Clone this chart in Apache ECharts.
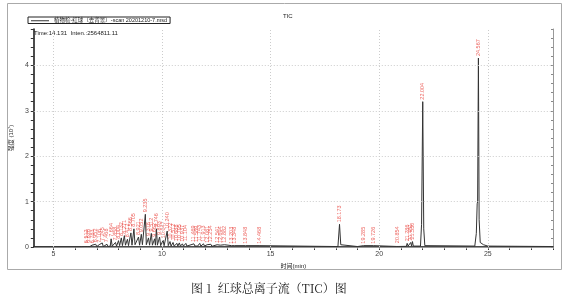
<!DOCTYPE html>
<html><head><meta charset="utf-8">
<script src="https://cdn.jsdelivr.net/npm/echarts@6/dist/echarts.min.js"></script>
<style>html,body{margin:0;padding:0;background:#fff}#c{width:569px;height:299px}</style>
</head><body><div id="c"></div>
<script>
// ---- data ----
const seriesName = '植物检-红球（去背景）-scan 20201210-7.msd';
const xTicks = [5,6,7,8,9,10,11,12,13,14,15,16,17,18,19,20,21,22,23,24,25,26,27,28];
const xLabels = [5,10,15,20,25];
const yLabels = [0,1,2,3,4];
// TIC trace: [time (min), intensity]
const trace = [
[4.1,0.005],[6.3,0.006],[6.45,0.01],[6.51,0.04],[6.56,0.01],[6.63,0.05],[6.68,0.01],[6.78,0.04],[6.83,0.01],
[6.95,0.06],[7.0,0.01],[7.11,0.05],[7.16,0.01],[7.25,0.09],[7.3,0.01],[7.47,0.06],[7.52,0.01],[7.62,0.02],
[7.66,0.18],[7.71,0.02],[7.86,0.10],[7.91,0.02],[8.0,0.14],[8.05,0.03],[8.13,0.20],[8.18,0.03],[8.27,0.25],
[8.32,0.04],[8.41,0.17],[8.46,0.03],[8.57,0.31],[8.62,0.04],[8.71,0.40],[8.76,0.05],[8.92,0.22],[8.97,0.04],
[9.05,0.28],[9.1,0.05],[9.19,0.05],[9.235,0.72],[9.28,0.05],[9.38,0.20],[9.43,0.04],[9.51,0.30],[9.56,0.04],
[9.66,0.18],[9.7,0.04],[9.746,0.40],[9.79,0.04],[9.89,0.22],[9.94,0.03],[10.05,0.15],[10.1,0.03],[10.24,0.35],
[10.29,0.03],[10.37,0.12],[10.42,0.02],[10.51,0.10],[10.56,0.02],[10.69,0.08],[10.73,0.02],[10.8,0.09],
[10.85,0.02],[10.94,0.07],[10.99,0.02],[11.1,0.08],[11.15,0.02],[11.47,0.07],[11.52,0.02],[11.59,0.06],
[11.64,0.02],[11.74,0.08],[11.79,0.02],[11.91,0.07],[11.96,0.02],[12.08,0.05],[12.13,0.015],[12.25,0.06],
[12.3,0.015],[12.54,0.05],[12.59,0.015],[12.69,0.04],[12.74,0.012],[12.88,0.05],[12.93,0.012],[13.2,0.03],
[13.25,0.01],[13.35,0.03],[13.4,0.01],[13.85,0.03],[13.9,0.01],[14.47,0.03],[14.52,0.008],[18.1,0.01],
[18.173,0.5],[18.23,0.05],[18.3,0.015],[19.0,0.01],[19.285,0.03],[19.33,0.01],[19.726,0.03],[19.77,0.01],
[20.8,0.012],[20.854,0.04],[20.9,0.012],[21.25,0.015],[21.286,0.08],[21.33,0.02],[21.41,0.02],[21.451,0.1],
[21.49,0.02],[21.53,0.12],[21.57,0.02],[21.9,0.02],[21.95,0.5],[22.004,3.2],[22.05,0.4],[22.1,0.03],
[24.4,0.02],[24.47,0.3],[24.51,0.95],[24.53,1.0],[24.567,4.16],[24.6,0.6],[24.65,0.1],[24.8,0.05],[25.0,0.02],[28,0.01]
];
// labelled peaks: time, apex intensity
const peakTimes = [6.512,6.628,6.783,6.952,7.106,7.245,7.468,7.664,7.858,8.004,8.132,8.271,8.412,8.566,8.705,8.921,9.052,9.235,9.378,9.512,9.662,9.746,9.893,10.047,10.240,10.372,10.512,10.688,10.795,10.937,11.104,11.469,11.589,11.743,11.913,12.081,12.254,12.541,12.694,12.882,13.203,13.348,13.848,14.468,18.173,19.285,19.726,20.854,21.286,21.451,21.530,22.004,24.567];
const peakHeights = [0.04,0.05,0.04,0.06,0.05,0.09,0.06,0.18,0.10,0.14,0.20,0.25,0.17,0.31,0.40,0.22,0.28,0.72,0.20,0.30,0.18,0.40,0.22,0.15,0.35,0.12,0.10,0.08,0.09,0.07,0.08,0.07,0.06,0.08,0.07,0.05,0.06,0.05,0.04,0.05,0.03,0.03,0.03,0.03,0.5,0.03,0.03,0.04,0.08,0.1,0.12,3.2,4.16];
const peakLabels = peakTimes.map(t => t.toFixed(3));

const FONT = '"Liberation Sans","Noto Sans CJK SC",sans-serif';
const chart = echarts.init(document.getElementById('c'), null, {renderer:'canvas'});
const gridLines = xLabels.map(v => ({xAxis:v})).concat([1,2,3,4].map(v => ({yAxis:v})));
chart.setOption({
  animation:false,
  backgroundColor:'#fff',
  title:{text:'TIC', left:278, top:8, textStyle:{fontSize:6, fontWeight:'normal', color:'#222', fontFamily:FONT}},
  legend:{left:28, top:17, icon:'rect', itemWidth:18, itemHeight:1, itemGap:2, padding:[1,3,0,3],
    borderColor:'#222', borderWidth:1, borderRadius:0,
    textStyle:{fontSize:5.5, color:'#222', fontFamily:FONT}, data:[seriesName]},
  grid:{left:29, right:16, top:29, bottom:52},
  xAxis:[
    {type:'value', min:4.1, max:28, position:'bottom',
     name:'时间(min)', nameLocation:'middle', nameGap:14, nameTextStyle:{fontSize:6, color:'#222', fontFamily:FONT},
     axisLine:{lineStyle:{color:'#111', width:1.5}},
     axisTick:{show:true, length:3, customValues:xTicks, lineStyle:{color:'#333'}},
     axisLabel:{customValues:xLabels, fontSize:7, color:'#444', margin:4, fontFamily:FONT},
     splitLine:{show:false}},
    {type:'value', min:4.1, max:28, position:'top',
     axisLine:{show:true, lineStyle:{color:'#999', width:1}},
     axisTick:{show:true, inside:true, length:2, customValues:xTicks, lineStyle:{color:'#888'}},
     axisLabel:{show:false}, splitLine:{show:false}}
  ],
  yAxis:[
    {type:'value', min:0, max:4.8, interval:0.2, position:'left',
     name:'强度 (10⁷)', nameLocation:'middle', nameGap:13, nameRotate:90, nameTextStyle:{fontSize:6, color:'#333', fontFamily:FONT},
     axisLine:{show:true, lineStyle:{color:'#111', width:1.5}},
     axisTick:{show:true, length:3, lineStyle:{color:'#333'}},
     axisLabel:{fontSize:7, color:'#444', margin:5, fontFamily:FONT,
       formatter:v => (Math.abs(v-Math.round(v))<1e-6 ? String(Math.round(v)) : '')},
     splitLine:{show:false}},
    {type:'value', min:0, max:4.8, interval:0.2, position:'right',
     axisLine:{show:true, lineStyle:{color:'#999', width:1}},
     axisTick:{show:true, inside:true, length:2, lineStyle:{color:'#888'}},
     axisLabel:{show:false}, splitLine:{show:false}}
  ],
  series:[
    {name:seriesName, type:'line', data:trace, symbol:'none', xAxisIndex:0, yAxisIndex:0,
     lineStyle:{color:'#333', width:1}, itemStyle:{color:'#333'},
     markLine:{silent:true, symbol:'none', label:{show:false},
       lineStyle:{type:[1,2], color:'#ccc', width:1}, data:gridLines}},
    {name:'peaks', type:'scatter', symbolSize:0, xAxisIndex:0, yAxisIndex:0,
     data:peakTimes.map((t,i)=>({value:[t, peakHeights[i]], label:{formatter:peakLabels[i]}})),
     label:{show:true, position:'top', rotate:90, align:'left', verticalAlign:'middle', distance:2,
       fontSize:5.5, color:'#e8403a', fontFamily:FONT}}
  ],
  graphic:[
    {type:'rect', shape:{x:7.5, y:3.5, width:554, height:266}, style:{fill:'none', stroke:'#aaa', lineWidth:1}, silent:true, z:-1},
    {type:'text', left:34, top:30, style:{text:'Time:14.131  Inten.:2564811.11', fontSize:6, fill:'#222', fontFamily:FONT}},
    {type:'text', left:191, top:282, style:{text:'图 1  红球总离子流（TIC）图', fontSize:12, fill:'#222', fontFamily:'"Noto Serif CJK SC","Noto Sans CJK SC",serif'}}
  ]
});
</script></body></html>
